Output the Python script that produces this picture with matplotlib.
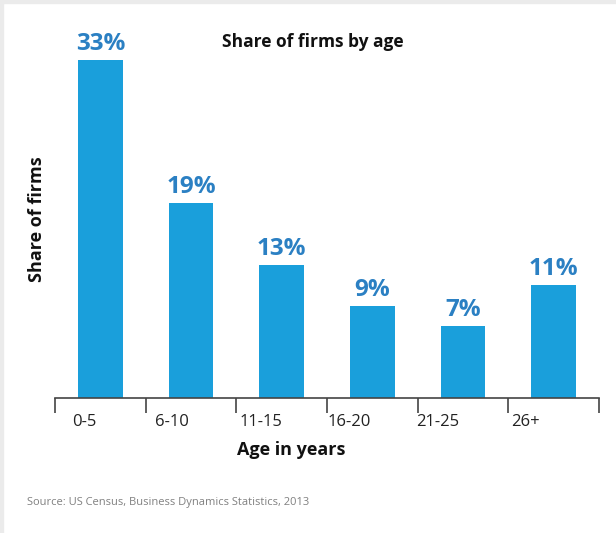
import matplotlib.pyplot as plt
from matplotlib.patches import Rectangle

# Share of firms by firm age (percent)
age_groups = ["0-5", "6-10", "11-15", "16-20", "21-25", "26+"]
share = [33, 19, 13, 9, 7, 11]

bar_color = "#1a9fdb"
label_color = "#2b80c3"
W, H = 616, 533

fig = plt.figure(figsize=(W / 100, H / 100), dpi=100)
plt.rcParams["font.family"] = ["Open Sans", "DejaVu Sans"]

# light frame strips on the top and left edges
fig.patches.append(Rectangle((0, 1 - 3 / H), 1, 3 / H, transform=fig.transFigure,
                             color="#ebebeb", zorder=0))
fig.patches.append(Rectangle((0, 0), 3 / W, 1, transform=fig.transFigure,
                             color="#ebebeb", zorder=0))

left, right = 55 / W, 599 / W
bottom, top = (H - 398) / H, (H - 30) / H
ax = fig.add_axes([left, bottom, right - left, top - bottom])

x = range(len(age_groups))
bars = ax.bar(x, share, width=0.49, color=bar_color, zorder=2)

for xi, v in zip(x, share):
    ax.annotate(f"{v}%", (xi, v), xytext=(0, 3), textcoords="offset points",
                ha="center", va="bottom", fontsize=17.5, fontweight="bold",
                color=label_color)

ax.set_xlim(-0.5, len(age_groups) - 0.5)
ax.set_ylim(0, 368 / 10.24)

for s in ["top", "right", "left"]:
    ax.spines[s].set_visible(False)
ax.spines["bottom"].set_color("#444444")
ax.spines["bottom"].set_linewidth(1.2)
ax.set_yticks([])

# ticks sit on the category boundaries, labels drawn as text
ax.set_xticks([i - 0.5 for i in range(len(age_groups) + 1)])
ax.set_xticklabels([])
ax.tick_params(axis="x", direction="out", length=11, width=1.2, color="#444444")

for xi, lab in zip(x, age_groups):
    ax.text(xi - 0.18 - 0.026 * xi, -2.3, lab, ha="center", va="center",
            fontsize=12, color="#222222")

fig.text(313 / W, 1 - 42 / H, "Share of firms by age", ha="center", va="center",
         fontsize=12.5, fontweight="bold", color="#111111")
fig.text(291 / W, 1 - 450 / H, "Age in years", ha="center", va="center",
         fontsize=13, fontweight="bold", color="#111111")
fig.text(37 / W, 1 - 219 / H, "Share of firms", ha="center", va="center",
         rotation=90, fontsize=13, fontweight="bold", color="#111111")
fig.text(27 / W, 1 - 502 / H, "Source: US Census, Business Dynamics Statistics, 2013",
         ha="left", va="center", fontsize=8, color="#808080")

fig.savefig("out.png", dpi=100)
